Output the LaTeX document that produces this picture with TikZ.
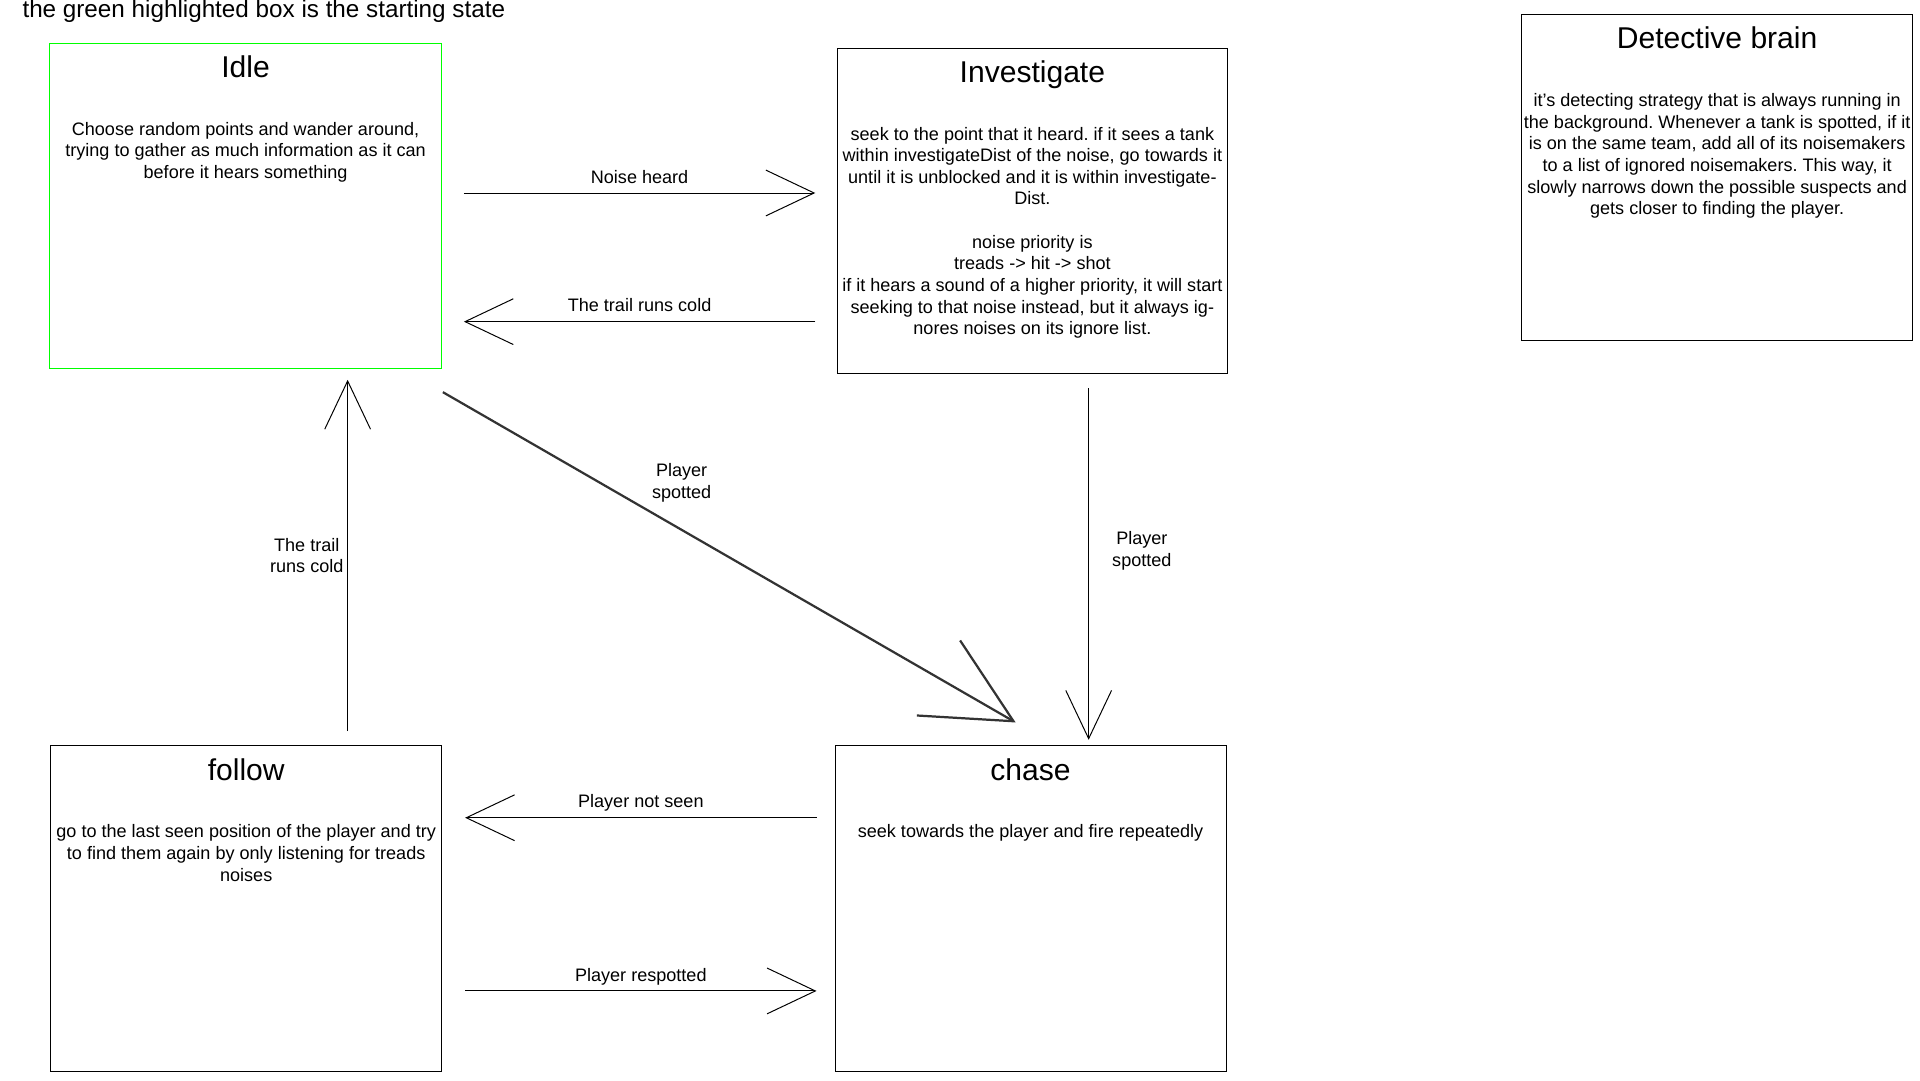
\documentclass[tikz,border=0pt]{standalone}
\usepackage{fontspec}
\setmainfont{Liberation Sans}
\usetikzlibrary{arrows.meta,calc}
\definecolor{startgreen}{RGB}{0,255,0}
\frenchspacing
\begin{document}
\begin{tikzpicture}[x=1pt,y=-1pt,
  statebox/.style={draw=black, line width=0.8pt, anchor=north west, inner sep=0pt, outer sep=0pt, minimum width=316pt, minimum height=263pt},
  titletext/.style={anchor=base, inner sep=0pt, font=\fontsize{24.3}{29}\selectfont},
  bodytext/.style={anchor=north, inner sep=0pt, align=center, font=\fontsize{14.6}{17.5}\selectfont},
  lbl/.style={inner sep=0pt, font=\fontsize{14.6}{17.5}\selectfont},
  arr/.style={line width=0.8pt, -{Straight Barb[length=39pt,width=37pt]}},
  bigarr/.style={line width=1.8pt, draw=black!80, -{Straight Barb[length=70pt,width=70pt]}}
]
\useasboundingbox (0,0) rectangle (1552,873);

\node[anchor=base west, inner sep=0pt, font=\fontsize{19.6}{23}\selectfont] (note) at (18,14) {the green highlighted box is the starting state};

% boxes
\node[statebox, draw=startgreen, minimum width=317pt] (idle) at (40,35) {};
\node[statebox, minimum width=315pt] (inv) at (677,39) {};
\node[statebox] (det) at (1230,12) {};
\node[statebox] (follow) at (41,603) {};
\node[statebox] (chase) at (675,603) {};

% titles
\node[titletext] (idleT) at ($(idle.north)+(0,27.5)$) {Idle};
\node[titletext] (invT) at ($(inv.north)+(0,27.5)$) {Investigate};
\node[titletext] (detT) at ($(det.north)+(0,27.5)$) {Detective brain};
\node[titletext] (followT) at ($(follow.north)+(0,27.5)$) {follow};
\node[titletext] (chaseT) at ($(chase.north)+(0,27.5)$) {chase};

% bodies
\node[bodytext] (idleB) at ($(idle.north)+(0,63.4)$) {Choose random points and wander around,\\trying to gather as much information as it can\\before it hears something};
\node[bodytext] (invB) at ($(inv.north)+(0,63.4)$) {seek to the point that it heard. if it sees a tank\\within investigateDist of the noise, go towards it\\until it is unblocked and it is within investigate-\\Dist.\\[17.5pt]noise priority is\\treads -> hit -> shot\\if it hears a sound of a higher priority, it will start\\seeking to that noise instead, but it always ig-\\nores noises on its ignore list.};
\node[bodytext] (detB) at ($(det.north)+(0,63.4)$) {it’s detecting strategy that is always running in\\the background. Whenever a tank is spotted, if it\\is on the same team, add all of its noisemakers\\to a list of ignored noisemakers. This way, it\\slowly narrows down the possible suspects and\\gets closer to finding the player.};
\node[bodytext] (followB) at ($(follow.north)+(0,63.4)$) {go to the last seen position of the player and try\\to find them again by only listening for treads\\noises};
\node[bodytext] (chaseB) at ($(chase.north)+(0,63.4)$) {seek towards the player and fire repeatedly};

% connectors
\draw[arr] ($(idle.north east)+(18,121)$) -- ($(inv.north west)+(-18,117)$)
  node[lbl, midway, anchor=base, yshift=8pt] {Noise heard};
\draw[arr] ($(inv.north west)+(-18,221)$) -- ($(idle.north east)+(18,225)$)
  node[lbl, midway, anchor=base, yshift=8pt] {The trail runs cold};
\draw[arr] ($(follow.north west)+(240,-12)$) -- ($(idle.south west)+(241,9)$)
  node[lbl, midway, anchor=east, xshift=-3pt, align=center] {The trail\\runs cold};
\draw[bigarr] ($(idle.south east)+(1,19)$) -- ($(chase.north west)+(146,-19)$)
  node[lbl, pos=0.381, xshift=16.6pt, yshift=28.7pt, align=center, text=black] {Player\\spotted};
\draw[arr] ($(inv.south west)+(203,12)$) -- ($(chase.north west)+(205,-5)$)
  node[lbl, midway, xshift=43pt, yshift=11pt, align=center] {Player\\spotted};
\draw[arr] ($(chase.north west)+(-15,58)$) -- ($(follow.north east)+(19,58)$)
  node[lbl, midway, anchor=base, yshift=8pt] {Player not seen};
\draw[arr] ($(follow.north east)+(19,198)$) -- ($(chase.north west)+(-15,198)$)
  node[lbl, midway, anchor=base, yshift=8pt] {Player respotted};
\end{tikzpicture}
\end{document}
